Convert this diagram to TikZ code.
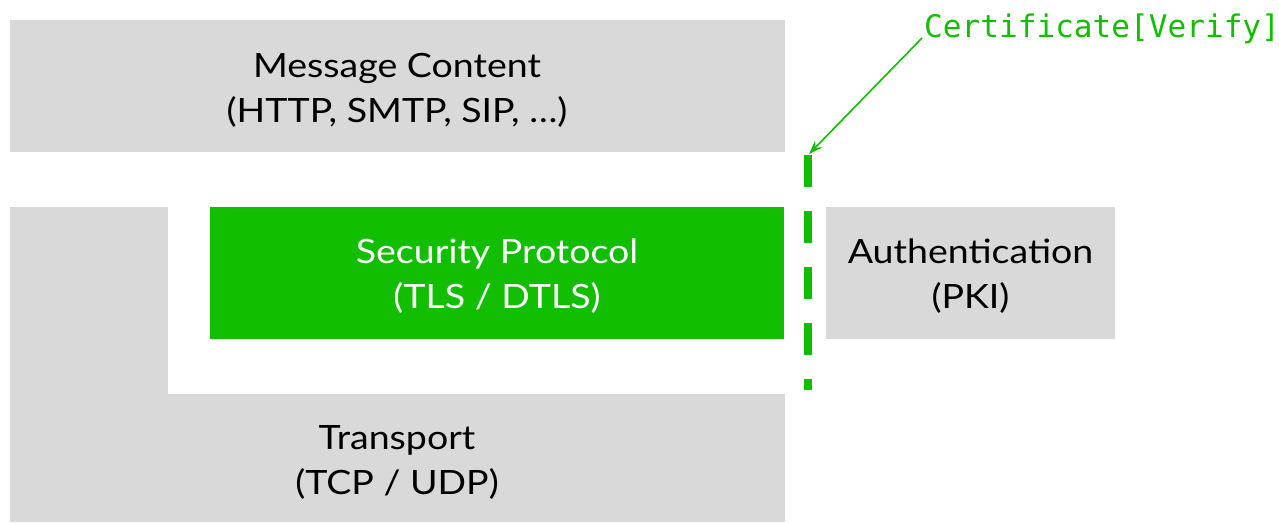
\documentclass[tikz,border=0pt]{standalone}
\usepackage{fontspec}
\setmainfont{Lato}[FakeStretch=1.12]
\newfontfamily\monofont{DejaVu Sans Mono}
\usetikzlibrary{arrows.meta}
\definecolor{boxgrey}{HTML}{D9D9D9}
\definecolor{secgreen}{HTML}{11BE00}
\tikzset{
  layer/.style={fill=boxgrey, inner sep=0pt},
  seclayer/.style={fill=secgreen, inner sep=0pt},
  layertext/.style={inner sep=0pt, align=center, font=\fontsize{33.5}{45}\selectfont, text=black},
  sectext/.style={layertext, text=white},
  certline/.style={draw=secgreen, line width=8pt, dash pattern=on 32pt off 24pt},
  certarrow/.style={draw=secgreen, line width=1.6pt, -{Stealth[length=14pt,width=10pt,inset=5pt]}},
}
\begin{document}
\begin{tikzpicture}[x=1pt,y=-1pt]
\useasboundingbox (0,0) rectangle (1279,523);
% Message content
\node[layer, minimum width=775pt, minimum height=132pt] (msg) at (397,86) {};
\node[layertext] (msgt) at ([yshift=-4pt]msg.center) {Message Content\\(HTTP, SMTP, SIP, \dots)};
% Transport L-shape
\fill[boxgrey] (10,207) rectangle (168,394.5);
\node[layer, minimum width=775pt, minimum height=128pt] (tr) at (397,458) {};
\node[layertext] (trt) at ([yshift=-4pt]tr.center) {Transport\\(TCP / UDP)};
% Security protocol
\node[seclayer, minimum width=574pt, minimum height=132pt] (sec) at (497,273) {};
\node[sectext] (sect) at ([yshift=-3pt]sec.center) {Security Protocol\\(TLS / DTLS)};
% Authentication
\node[layer, minimum width=289pt, minimum height=132pt] (auth) at (970.5,273) {};
\node[layertext] (autht) at ([yshift=-3pt]auth.center) {Authentication\\(PKI)};
% dashed boundary
\coordinate (dtop) at (808,155);
\coordinate (dbot) at (808,390);
\draw[certline] (dtop) -- (dbot);
% label
\node[anchor=base west, inner sep=0pt, text=secgreen, font=\monofont\fontsize{31.1}{36}\selectfont] (cert) at (924,37) {Certificate[Verify]};
\coordinate (cstart) at (922,38);
\coordinate (cend) at (809,154);
\draw[certarrow] (cstart) -- (cend);
\end{tikzpicture}
\end{document}
